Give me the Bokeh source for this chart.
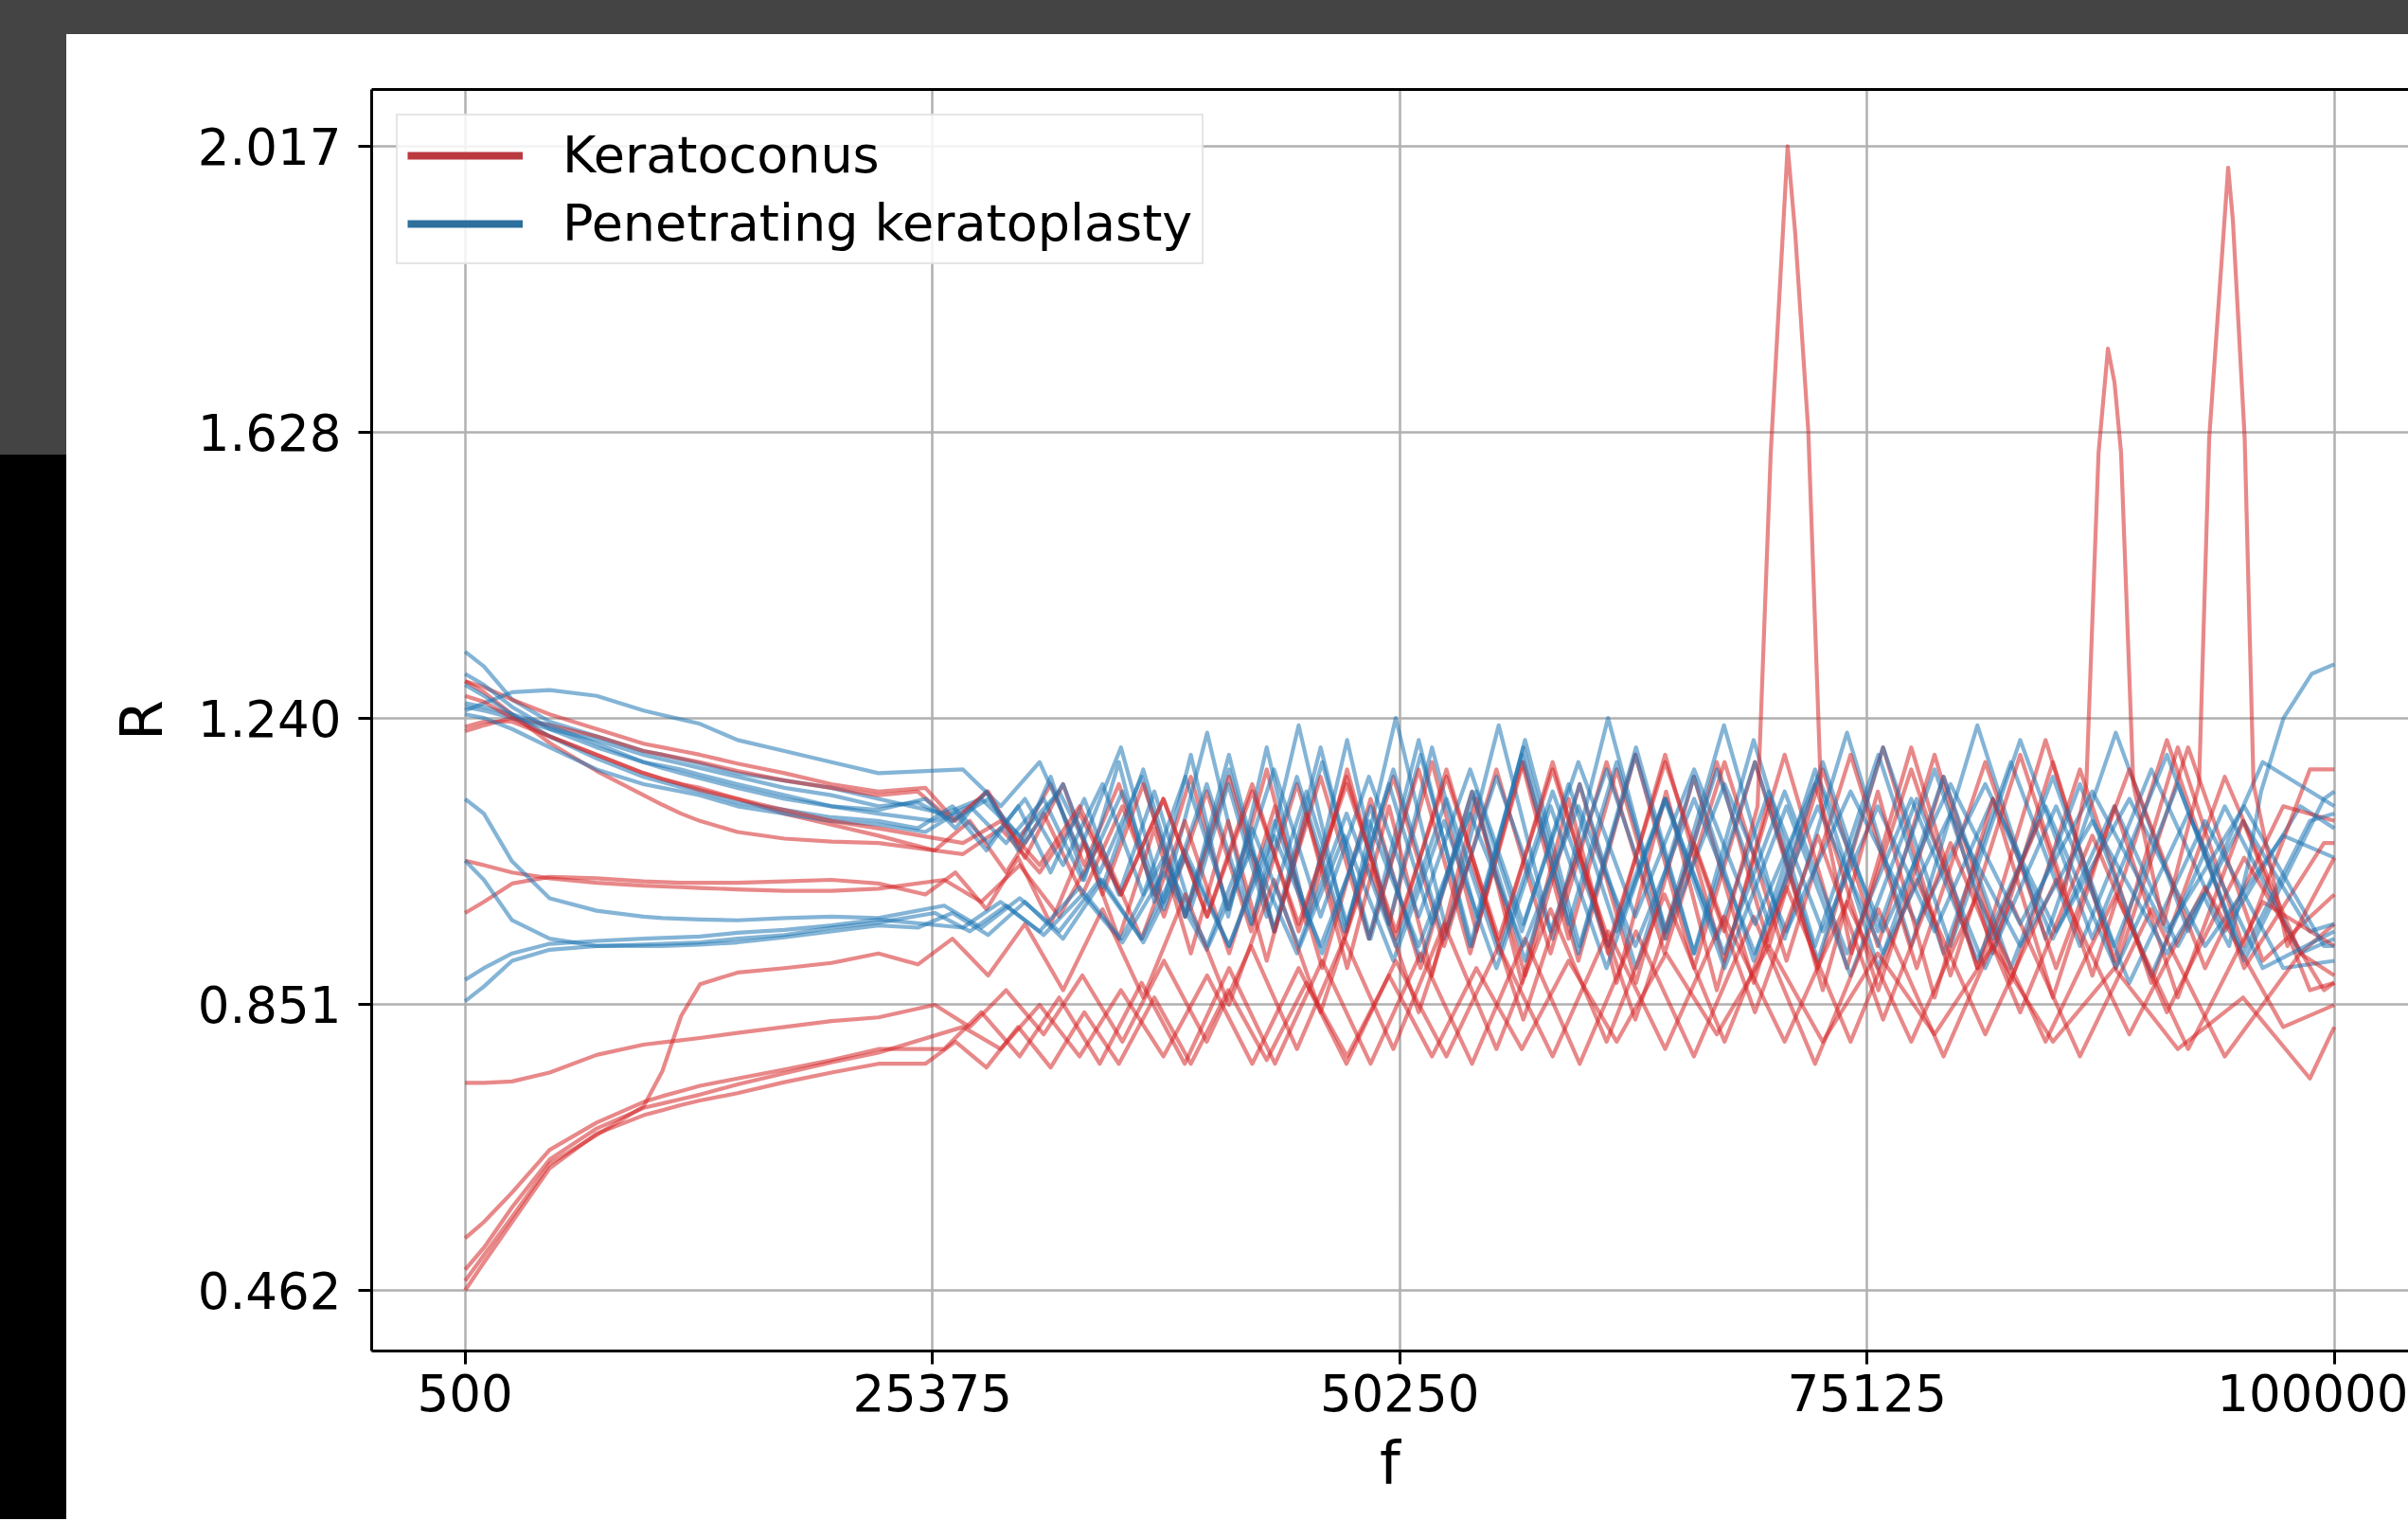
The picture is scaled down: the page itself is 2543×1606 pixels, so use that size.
from bokeh.plotting import figure
from bokeh.models import (FixedTicker, LinearAxis, Legend, LegendItem, Div, Range1d,
                          PrintfTickFormatter)
from bokeh.layouts import column, row
from bokeh.embed import file_html
from bokeh.resources import INLINE

# ---------------- frequency grids (Hz) ----------------
EARLY_F = [500, 1500, 3000, 5000, 7500, 10000, 11000, 12000, 13000, 15000, 17500, 20000, 22500]
END_F = 100000
SEQ_A = [26000, 27980, 30020, 32120, 34280, 36510, 38810, 41170, 43610, 46120, 48700, 51360, 54100,
         56920, 59830, 62830, 65910, 69090, 72360, 75730, 79200, 82780, 86460, 90260, 94170, 98190]
SEQ_B = [27000, 29010, 31080, 33210, 35410, 37670, 40000, 42400, 44870, 47420, 50040, 52740, 55520,
         58390, 61340, 64380, 67510, 70740, 74060, 77480, 81000, 84630, 88370, 92220, 96190]
SEQ_C = [25500, 27370, 29300, 31300, 33360, 35490, 37700, 39980, 42340, 44780, 47300, 49910, 52610,
         55400, 58280, 61260, 64350, 67540, 70840, 74250, 77770, 81420, 85190, 89090, 93120, 97280]
SEQ_D = [24600, 26440, 28340, 30300, 32330, 34430, 36600, 38840, 41160, 43560, 46040, 48610, 51260,
         54000, 56830, 59760, 62790, 65920, 69160, 72510, 75980, 79570, 83280, 87120, 91090, 95200, 99450]
SEQ_E = [25000, 26600, 28250, 29940, 31670, 33460, 35300, 37190, 39130, 41120, 43170, 45280, 47450,
         49680, 51970, 54330, 56750, 59240, 61800, 64430, 67130, 69910, 72770, 75700, 78720, 81830,
         85020, 88300, 91670, 95140, 98700]
SEQ_RISE = [24600, 26440, 28340, 30300, 32330, 34430, 36600, 38840, 41160, 43560, 46040, 48610, 51260,
            54000, 56830, 59760, 62790, 65920, 69160, 72510, 75980, 79570, 83280, 87120, 91090,
            93000, 94400, 95400, 96100, 97300, 98800]
SEQ_SPIKE = [27000, 29010, 31080, 33210, 35410, 37670, 40000, 42400, 44870, 47420, 50040, 52740, 55520,
             58390, 61340, 64380, 67510, 69300, 70000, 70900, 71300, 72000, 72700, 74300, 77480, 81000,
             84300, 85600, 86800, 87450, 87950, 88300, 88650, 89300, 90900, 92800, 93340, 94350, 94600,
             95230, 95700, 97500]

# ---------------- Keratoconus curves (R values) ----------------
KC1 = [1.29, 1.275, 1.245, 1.206, 1.168, 1.135, 1.122, 1.11, 1.10, 1.085, 1.076, 1.072, 1.07,
       1.055, 1.09, 1.03, 1.11, 1.00, 1.13, 0.97, 1.15, 0.95, 1.16, 0.94, 1.17, 0.93, 1.18, 0.92,
       1.19, 0.91, 1.19, 0.90, 1.20, 0.90, 1.21, 0.90, 1.20, 0.91, 1.00]
KC2 = [1.29, 1.282, 1.265, 1.245, 1.225, 1.205, 1.20, 1.195, 1.19, 1.178, 1.165, 1.15, 1.14,
       1.145, 1.10, 1.14, 1.07, 1.15, 1.04, 1.15, 1.00, 1.16, 0.98, 1.17, 0.96, 1.17, 0.96, 1.18,
       0.95, 1.18, 0.94, 1.17, 0.94, 1.18, 0.93, 1.17, 0.93, 1.19, 0.92, 1.18, 0.91, 1.20, 0.93,
       1.17, 1.17]
KC3 = [1.228, 1.235, 1.235, 1.215, 1.19, 1.165, 1.157, 1.15, 1.145, 1.13, 1.11, 1.095, 1.08,
       1.06, 1.10, 1.03, 1.11, 1.00, 1.12, 0.97, 1.14, 0.95, 1.15, 0.94, 1.16, 0.93, 1.17, 0.92,
       1.18, 0.92, 1.18, 0.91, 1.19, 0.90, 1.18, 0.90, 1.17, 0.90, 1.12, 1.10]
KC4 = [1.222, 1.23, 1.24, 1.23, 1.215, 1.195, 1.19, 1.185, 1.18, 1.168, 1.155, 1.145, 1.135,
       1.14, 1.10, 1.14, 1.05, 1.15, 1.00, 1.15, 0.97, 1.16, 0.95, 1.16, 0.94, 1.17, 0.92, 1.18,
       0.91, 1.19, 0.90, 1.18, 0.90, 1.20, 0.89, 1.19, 0.89, 1.21, 0.90, 1.07, 1.07]
KC5 = [1.046, 1.04, 1.03, 1.022, 1.016, 1.012, 1.011, 1.01, 1.009, 1.007, 1.005, 1.005, 1.008,
       1.02, 0.99, 1.04, 0.97, 1.07, 0.94, 1.10, 0.92, 1.12, 0.90, 1.13, 0.90, 1.14, 0.89, 1.15,
       0.88, 1.16, 0.88, 1.15, 0.87, 1.16, 0.88, 1.17, 0.88, 1.16, 0.92, 0.96]
KC6 = [0.975, 0.99, 1.015, 1.024, 1.022, 1.018, 1.017, 1.016, 1.016, 1.016, 1.018, 1.02, 1.015,
       1.00, 1.03, 0.98, 1.05, 0.96, 1.07, 0.94, 1.09, 0.92, 1.10, 0.91, 1.11, 0.90, 1.12, 0.89,
       1.13, 0.88, 1.13, 0.88, 1.14, 0.87, 1.13, 0.87, 1.14, 0.86, 1.13, 0.86, 1.12, 0.86, 1.10,
       0.87, 0.88]
KC7 = [0.744, 0.744, 0.746, 0.758, 0.782, 0.796, 0.799, 0.802, 0.805, 0.812, 0.82, 0.828, 0.833,
       0.85, 0.82, 0.87, 0.81, 0.89, 0.80, 0.91, 0.80, 0.93, 0.79, 0.94, 0.79, 0.96, 0.79, 0.98,
       0.80, 1.00, 0.80, 1.01, 0.80, 1.02, 0.81, 1.02, 0.81, 1.01, 0.82, 0.85]
KC8 = [0.475, 0.51, 0.562, 0.634, 0.673, 0.712, 0.76, 0.835, 0.878, 0.894, 0.90, 0.907, 0.92,
       0.905, 0.94, 0.89, 0.96, 0.87, 0.98, 0.86, 1.00, 0.85, 1.02, 0.84, 1.04, 0.84, 1.05, 0.83,
       1.06, 0.83, 1.07, 0.84, 1.08, 0.83, 1.07, 0.84, 1.08, 0.84, 1.05, 0.87, 0.88]
KC9 = [0.533, 0.555, 0.595, 0.653, 0.69, 0.718, 0.726, 0.733, 0.74, 0.75, 0.762, 0.775, 0.79,
       0.79, 0.84, 0.78, 0.86, 0.77, 0.88, 0.77, 0.90, 0.77, 0.91, 0.77, 0.92, 0.77, 0.94, 0.77,
       0.95, 0.78, 0.97, 0.77, 0.98, 0.78, 0.99, 0.78, 0.98, 0.78, 0.92, 0.89]
KC10 = [0.49, 0.52, 0.575, 0.64, 0.682, 0.71, 0.716, 0.722, 0.728, 0.742, 0.757, 0.772, 0.785,
        0.82, 0.79, 0.85, 0.78, 0.87, 0.78, 0.89, 0.77, 0.90, 0.77, 0.91, 0.78, 0.93, 0.78, 0.95,
        0.79, 0.97, 0.80, 0.99, 0.80, 1.00, 0.80, 1.00, 0.79, 0.99, 0.93]
KC11 = [0.462, 0.50, 0.555, 0.628, 0.675, 0.70, 0.707, 0.714, 0.72, 0.73, 0.745, 0.758, 0.77,
        0.77, 0.80, 0.765, 0.82, 0.765, 0.84, 0.77, 0.86, 0.77, 0.87, 0.775, 0.88, 0.78, 0.89, 0.78,
        0.90, 0.79, 0.91, 0.80, 0.92, 0.81, 0.93, 0.80, 0.92, 0.81, 0.93, 0.80, 0.90, 0.79, 0.86,
        0.75, 0.82]
KC12 = [1.27, 1.262, 1.24, 1.215, 1.19, 1.165, 1.157, 1.15, 1.142, 1.13, 1.115, 1.10, 1.09,
        1.07, 1.10, 1.04, 1.12, 1.00, 1.13, 0.97, 1.14, 0.96, 1.15, 0.95, 1.16, 0.94, 1.17, 0.93,
        1.18, 0.95, 1.12, 1.60, 2.017, 1.90, 1.63, 1.12, 0.92, 1.17, 0.90, 1.10, 1.00, 1.15, 1.60,
        1.742, 1.696, 1.60, 1.15, 0.96, 1.15, 1.62, 1.988, 1.917, 1.62, 1.15, 0.93, 1.05]

# ---------------- Penetrating keratoplasty curves (R values) ----------------
PK1 = [1.33, 1.31, 1.265, 1.235, 1.215, 1.195, 1.19, 1.184, 1.178, 1.165, 1.155, 1.145, 1.13,
       1.11, 1.13, 1.08, 1.14, 1.03, 1.16, 0.97, 1.17, 0.95, 1.18, 0.94, 1.19, 0.93, 1.21, 0.93,
       1.20, 0.92, 1.21, 0.93, 1.19, 0.92, 1.18, 0.93, 1.17, 0.95, 1.12, 1.09]
PK2 = [1.25, 1.26, 1.275, 1.278, 1.27, 1.25, 1.244, 1.238, 1.232, 1.21, 1.195, 1.18, 1.165,
       1.17, 1.12, 1.18, 1.06, 1.20, 0.99, 1.22, 0.96, 1.23, 0.95, 1.24, 0.95, 1.23, 0.94, 1.24,
       0.95, 1.23, 0.94, 1.22, 0.93, 1.23, 0.94, 1.22, 0.95, 1.18, 1.12]
PK3 = [1.30, 1.285, 1.255, 1.225, 1.20, 1.18, 1.175, 1.17, 1.163, 1.15, 1.135, 1.12, 1.11,
       1.10, 1.12, 1.07, 1.13, 1.02, 1.14, 0.98, 1.15, 0.96, 1.16, 0.95, 1.17, 0.94, 1.16, 0.95,
       1.17, 0.94, 1.15, 0.95, 1.14, 0.96, 1.15, 0.95, 1.13, 0.93, 1.08, 1.05]
PK4 = [1.255, 1.25, 1.24, 1.225, 1.21, 1.19, 1.184, 1.178, 1.172, 1.16, 1.145, 1.135, 1.12,
       1.125, 1.10, 1.13, 1.07, 1.15, 1.01, 1.17, 0.97, 1.19, 0.95, 1.20, 0.94, 1.21, 0.93, 1.20,
       0.92, 1.19, 0.92, 1.18, 0.91, 1.20, 0.93, 1.21, 0.94, 1.19, 0.91, 1.13, 1.14]
PK5 = [1.245, 1.24, 1.225, 1.20, 1.17, 1.15, 1.145, 1.14, 1.135, 1.12, 1.11, 1.10, 1.095,
       1.085, 1.11, 1.06, 1.12, 1.03, 1.13, 1.00, 1.14, 0.98, 1.15, 0.97, 1.14, 0.96, 1.15, 0.96,
       1.14, 0.95, 1.15, 0.95, 1.13, 0.94, 1.14, 0.95, 1.12, 0.95, 1.13, 0.94, 1.12, 0.93, 1.10,
       0.95, 0.96]
PK6 = [1.13, 1.11, 1.045, 0.995, 0.978, 0.97, 0.968, 0.967, 0.966, 0.965, 0.968, 0.97, 0.968,
       0.985, 0.955, 0.995, 0.95, 1.02, 0.94, 1.06, 0.93, 1.10, 0.92, 1.12, 0.91, 1.14, 0.91, 1.15,
       0.90, 1.16, 0.91, 1.17, 0.90, 1.16, 0.90, 1.15, 0.89, 1.12, 0.92, 0.94]
PK7 = [1.046, 1.02, 0.965, 0.94, 0.93, 0.932, 0.933, 0.934, 0.935, 0.94, 0.945, 0.955, 0.962,
       0.975, 0.95, 0.985, 0.945, 1.00, 0.935, 1.03, 0.925, 1.06, 0.92, 1.08, 0.91, 1.10, 0.90,
       1.12, 0.90, 1.13, 0.90, 1.12, 0.89, 1.13, 0.90, 1.12, 0.88, 1.10, 0.90, 0.91]
PK8 = [0.884, 0.90, 0.92, 0.933, 0.937, 0.94, 0.941, 0.942, 0.943, 0.948, 0.952, 0.958, 0.966,
       0.955, 0.99, 0.95, 1.01, 0.94, 1.05, 0.93, 1.09, 0.93, 1.11, 0.93, 1.13, 0.92, 1.14, 0.93,
       1.13, 0.92, 1.14, 0.92, 1.13, 0.91, 1.12, 0.90, 1.11, 0.90, 0.95]
PK9 = [0.855, 0.875, 0.91, 0.925, 0.93, 0.93, 0.93, 0.931, 0.932, 0.935, 0.942, 0.95, 0.958,
       0.955, 0.975, 0.945, 0.99, 0.94, 1.02, 0.935, 1.05, 0.93, 1.08, 0.93, 1.10, 0.93, 1.11,
       0.93, 1.12, 0.93, 1.13, 0.92, 1.12, 0.92, 1.11, 0.93, 1.10, 0.92,
       1.00, 0.93, 1.04, 1.14, 1.24, 1.30, 1.313]
PK10 = [1.26, 1.255, 1.245, 1.23, 1.205, 1.18, 1.172, 1.165, 1.158, 1.145, 1.13, 1.12, 1.115,
        1.13, 1.09, 1.14, 1.06, 1.16, 1.02, 1.18, 0.99, 1.19, 0.97, 1.20, 0.97, 1.21, 0.96, 1.20,
        0.97, 1.19, 0.96, 1.18, 0.95, 1.17, 0.96, 1.18, 0.95, 1.17, 0.94, 1.16, 0.93, 1.15, 0.92,
        1.10, 1.11]
PK11 = [1.285, 1.27, 1.245, 1.215, 1.185, 1.16, 1.153, 1.146, 1.14, 1.125, 1.115, 1.105, 1.10,
        1.09, 1.12, 1.07, 1.13, 1.04, 1.15, 1.00, 1.16, 0.98, 1.17, 0.97, 1.16, 0.97, 1.17, 0.96,
        1.18, 0.97, 1.17, 0.96, 1.16, 0.95, 1.15, 0.96, 1.14, 0.95, 1.12, 0.93, 0.93]

SEQS = {"A": SEQ_A, "B": SEQ_B, "C": SEQ_C, "D": SEQ_D, "E": SEQ_E, "R": SEQ_RISE, "S": SEQ_SPIKE}
KERATOCONUS = [("B", KC1), ("E", KC2), ("C", KC3), ("D", KC4), ("A", KC5), ("E", KC6),
               ("C", KC7), ("D", KC8), ("A", KC9), ("B", KC10), ("E", KC11), ("S", KC12)]
KERATOPLASTY = [("A", PK1), ("B", PK2), ("C", PK3), ("D", PK4), ("E", PK5), ("A", PK6),
                ("C", PK7), ("B", PK8), ("R", PK9), ("E", PK10), ("D", PK11)]

X_TICKS = [500, 25375, 50250, 75125, 100000]
Y_TICKS = [0.462, 0.851, 1.240, 1.628, 2.017]

RED = "#d62728"
BLUE = "#1f77b4"


def freqs(key, vals):
    seq = SEQS[key]
    n = len(vals) - len(EARLY_F) - 1
    if n != len(seq):
        raise ValueError("length mismatch for seq %s: %d vs %d" % (key, n, len(seq)))
    return EARLY_F + seq + [END_F]


p = figure(width=2473, height=1568,
           x_range=Range1d(-4475, 103948), y_range=Range1d(0.3796, 2.0942),
           output_backend="svg", toolbar_location=None,
           min_border_left=322, min_border_right=0, min_border_top=58, min_border_bottom=178,
           background_fill_color="white", border_fill_color="white")
p.outline_line_color = None

# grid
for g in (p.xgrid, p.ygrid):
    g.grid_line_color = "#b0b0b0"
    g.grid_line_width = 2.5
p.xgrid.ticker = FixedTicker(ticks=X_TICKS)
p.ygrid.ticker = FixedTicker(ticks=Y_TICKS)

# curves, interleaved red / blue
n_lines = max(len(KERATOCONUS), len(KERATOPLASTY))
for i in range(n_lines):
    if i < len(KERATOCONUS):
        k, v = KERATOCONUS[i]
        p.line(freqs(k, v), v, line_color=RED, line_alpha=0.55, line_width=4.2,
               line_join="round")
    if i < len(KERATOPLASTY):
        k, v = KERATOPLASTY[i]
        p.line(freqs(k, v), v, line_color=BLUE, line_alpha=0.55, line_width=4.2,
               line_join="round")

# axes
p.xaxis.ticker = FixedTicker(ticks=X_TICKS)
p.yaxis.ticker = FixedTicker(ticks=Y_TICKS)
p.xaxis.formatter = PrintfTickFormatter(format="%d")
p.yaxis.formatter = PrintfTickFormatter(format="%.3f")
p.xaxis.axis_label = "f"
p.yaxis.axis_label = "R"
for ax in (p.xaxis[0], p.yaxis[0]):
    ax.axis_line_width = 3
    ax.axis_line_color = "black"
    ax.major_tick_line_width = 3
    ax.major_tick_line_color = "black"
    ax.major_tick_out = 14
    ax.major_tick_in = 0
    ax.minor_tick_out = 0
    ax.minor_tick_in = 0
    ax.major_label_text_font = "DejaVu Sans"
    ax.major_label_text_font_size = "53px"
    ax.major_label_text_color = "black"
    ax.axis_label_text_font = "DejaVu Sans"
    ax.axis_label_text_font_size = "62px"
    ax.axis_label_text_font_style = "normal"
    ax.axis_label_text_color = "black"
p.xaxis.major_label_standoff = 10
p.xaxis.axis_label_standoff = 15
p.yaxis.major_label_standoff = 18
p.yaxis.axis_label_standoff = 20

top_spine = LinearAxis(ticker=FixedTicker(ticks=[]), major_label_text_font_size="0px",
                       major_tick_out=0, major_tick_in=0, minor_tick_out=0, minor_tick_in=0,
                       major_label_standoff=0, axis_line_width=3, axis_line_color="black")
p.add_layout(top_spine, "above")

# legend (handles drawn from renderers that hold no visible point)
kc_handle = p.line([X_TICKS[0]], [float("nan")], line_color="#bb3a40", line_width=8)
pk_handle = p.line([X_TICKS[0]], [float("nan")], line_color="#2d6f9d", line_width=8)
legend = Legend(items=[LegendItem(label="Keratoconus", renderers=[kc_handle]),
                       LegendItem(label="Penetrating keratoplasty", renderers=[pk_handle])],
                location="top_left", margin=26, padding=10, spacing=9,
                glyph_width=122, glyph_height=50, label_standoff=42, label_height=50,
                label_text_font="DejaVu Sans", label_text_font_size="54px",
                label_text_color="black",
                border_line_color="#cccccc", border_line_width=2,
                background_fill_color="white", background_fill_alpha=0.85)
p.add_layout(legend)

# surrounding dark screenshot frame
top_band = Div(text="", width=2543, height=36, margin=0,
               styles={"background-color": "#444444"})
left_band = Div(text="", width=70, height=1568, margin=0,
                styles={"background": "linear-gradient(to bottom, #444444 0px, #444444 444px, "
                                      "#000000 444px, #000000 100%)"})
layout = column(top_band, row(left_band, p, spacing=0), spacing=0)

open("out.html", "w").write(file_html(layout, INLINE, title="R vs f"))
